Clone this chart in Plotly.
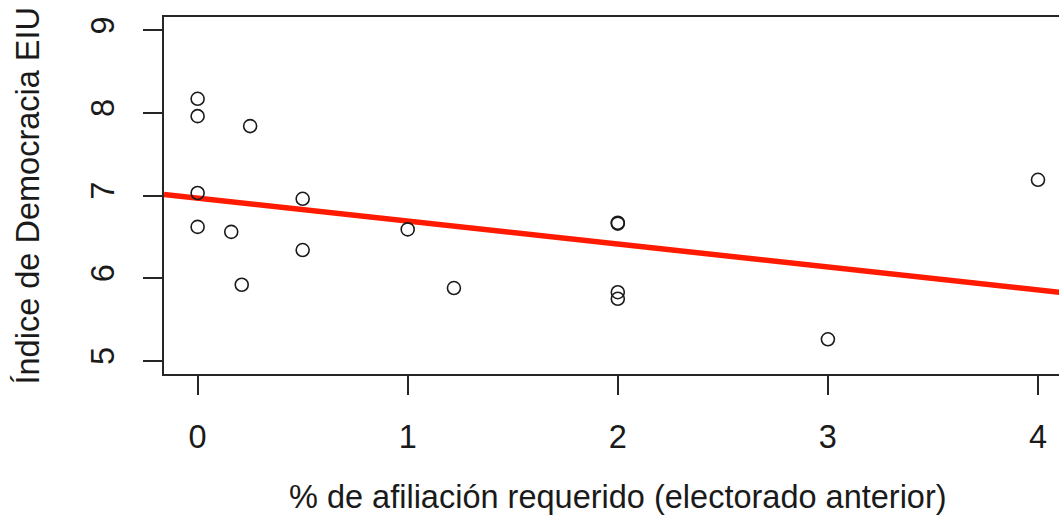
import numpy as np
import plotly.graph_objects as go

# Data
afiliacion = [0, 0, 0.25, 0, 0.5, 0, 0.16, 0.5, 0.21, 1.0, 1.22, 2, 2, 2, 2, 3, 4]
democracia = [8.17, 7.96, 7.84, 7.03, 6.96, 6.62, 6.56, 6.34, 5.92, 6.59, 5.88,
              6.66, 6.67, 5.83, 5.75, 5.26, 7.19]
x_ticks = [0, 1, 2, 3, 4]
y_ticks = [5, 6, 7, 8, 9]
x_title = "% de afiliación requerido (electorado anterior)"
y_title = "Índice de Democracia EIU"

x_range = [-0.16, 4.10]
y_range = [4.84, 9.16]

slope, intercept = np.polyfit(afiliacion, democracia, 1)
line_x = np.array([-0.16, 4.16])
line_y = intercept + slope * line_x

FONT = "Liberation Sans, Arial, sans-serif"
FS = 32.5
TXT = "#1a1a1a"
AX = "#262626"

fig = go.Figure()
fig.add_trace(go.Scatter(
    x=line_x, y=line_y, mode="lines",
    line=dict(color="#ff1a00", width=5.5), showlegend=False, hoverinfo="skip"))
fig.add_trace(go.Scatter(
    x=afiliacion, y=democracia, mode="markers",
    marker=dict(symbol="circle-open", size=13, color="#1a1a1a",
                line=dict(width=1.6, color="#1a1a1a")),
    showlegend=False))

fig.update_layout(
    width=1059, height=528,
    margin=dict(l=164, r=0, t=17, b=154),
    paper_bgcolor="white", plot_bgcolor="white",
    font=dict(family=FONT, size=FS, color=TXT),
    xaxis=dict(range=x_range, tickvals=x_ticks, ticktext=[str(v) for v in x_ticks],
               showgrid=False, zeroline=False, showline=True, mirror=True,
               linecolor=AX, linewidth=1.6, ticks="outside", ticklen=19,
               tickwidth=1.6, tickcolor=AX, ticklabelstandoff=14,
               tickfont=dict(family=FONT, size=FS, color=TXT)),
    yaxis=dict(range=y_range, tickvals=y_ticks, ticktext=[str(v) for v in y_ticks],
               showgrid=False, zeroline=False, showline=True, mirror=False,
               linecolor=AX, linewidth=1.6, ticks="outside", ticklen=19,
               tickwidth=1.6, tickcolor=AX, tickangle=-90, ticklabelstandoff=16,
               tickfont=dict(family=FONT, size=FS, color=TXT)),
    annotations=[
        dict(text=x_title, x=2, xref="x", y=0, yref="paper", yanchor="middle",
             yshift=-123, showarrow=False, font=dict(family=FONT, size=FS, color=TXT)),
        dict(text=y_title, x=0, xref="paper", y=7, yref="y", xanchor="center",
             xshift=-137, textangle=-90, showarrow=False,
             font=dict(family=FONT, size=FS, color=TXT)),
    ],
)

fig.write_html("out.html", config={"displayModeBar": False},
               post_script="document.body.style.margin='0';document.body.style.overflow='hidden';")
